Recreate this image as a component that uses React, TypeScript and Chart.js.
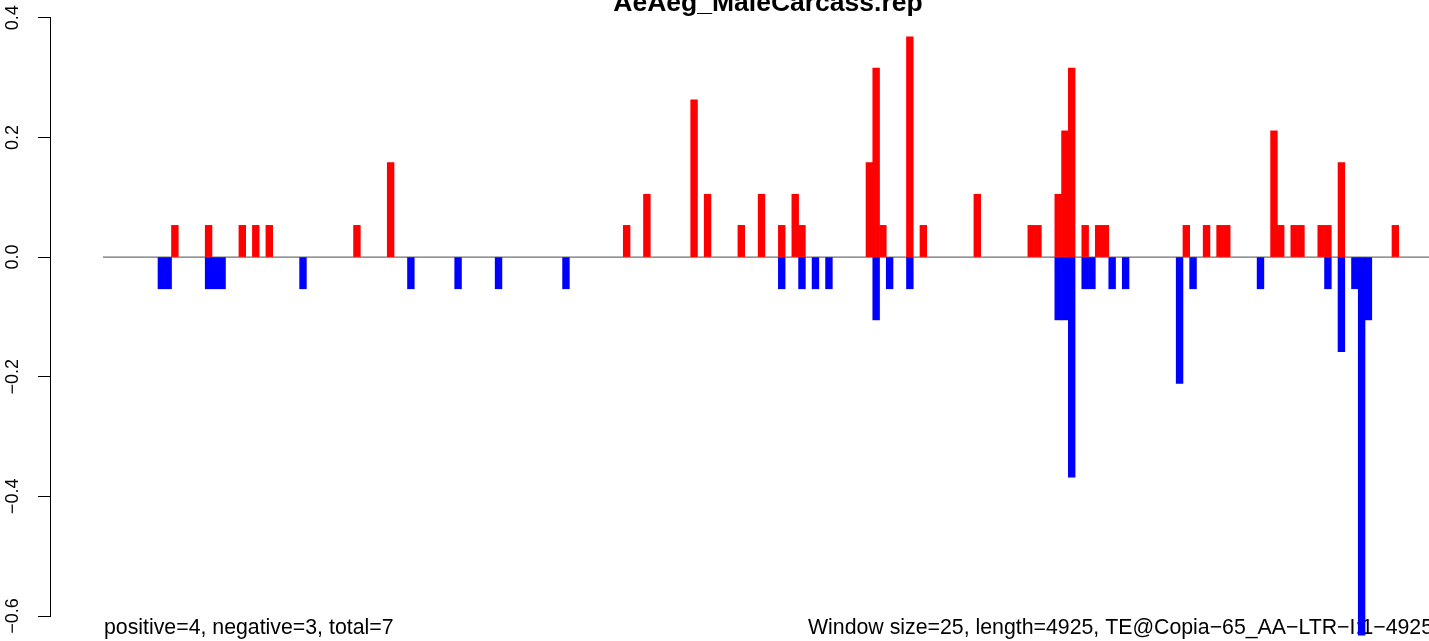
import React, { useEffect, useRef } from "react";
import { Chart, registerables } from "chart.js";

Chart.register(...registerables);

// ---- Text ----
const TITLE = "AeAeg_MaleCarcass.rep";
const LEFT_NOTE = "positive=4, negative=3, total=7";
const RIGHT_NOTE = "Window size=25, length=4925, TE@Copia\u221265_AA\u2212LTR\u2212I:1\u22124925";

// ---- Data: window index (0-based, 25 bp windows) and normalised value ----
const positiveWindows = [
  2, 7, 12, 14, 16, 29, 34, 69, 72, 79, 81, 86, 89, 92, 94, 95, 105, 106, 107,
  111, 113, 121, 129, 130, 133, 134, 135, 137, 139, 140, 152, 155, 157, 158,
  165, 166, 168, 169, 172, 173, 175, 183,
];
const positiveValues = [
  0.053, 0.053, 0.053, 0.053, 0.053, 0.053, 0.158, 0.053, 0.105, 0.263, 0.105,
  0.053, 0.105, 0.053, 0.105, 0.053, 0.158, 0.316, 0.053, 0.368, 0.053, 0.105,
  0.053, 0.053, 0.105, 0.211, 0.316, 0.053, 0.053, 0.053, 0.053, 0.053, 0.053,
  0.053, 0.211, 0.053, 0.053, 0.053, 0.053, 0.053, 0.158, 0.053,
];
const negativeWindows = [
  0, 1, 7, 8, 9, 21, 37, 44, 50, 60, 92, 95, 97, 99, 106, 108, 111, 133, 134,
  135, 137, 138, 141, 143, 151, 153, 163, 173, 175, 177, 178, 179,
];
const negativeValues = [
  -0.053, -0.053, -0.053, -0.053, -0.053, -0.053, -0.053, -0.053, -0.053,
  -0.053, -0.053, -0.053, -0.053, -0.053, -0.105, -0.053, -0.053, -0.105,
  -0.105, -0.368, -0.053, -0.053, -0.053, -0.053, -0.211, -0.053, -0.053,
  -0.053, -0.158, -0.053, -0.632, -0.105,
];
const yTickValues = [0.4, 0.2, 0.0, -0.2, -0.4, -0.6];
const zeroLineX = [-8.16, 200];

// ---- Scale range (window units) ----
const X_MIN = -16.02;
const X_MAX = 188.49;
const Y_MIN = -0.6;
const Y_MAX = 0.4;

const FONT = '"Liberation Sans", Arial, Helvetica, sans-serif';

const fmt = (v: number) =>
  v < 0 ? "\u2212" + Math.abs(v).toFixed(1) : Math.abs(v).toFixed(1);

const textPlugin = {
  id: "rTexts",
  beforeDatasetsDraw(chart: any) {
    const ctx = chart.ctx;
    ctx.save();
    ctx.fillStyle = "#000";
    ctx.textBaseline = "alphabetic";
    ctx.font = `bold 26.5px ${FONT}`;
    ctx.textAlign = "center";
    ctx.fillText(TITLE, 768, 11);
    ctx.font = `21.3px ${FONT}`;
    ctx.textAlign = "left";
    ctx.fillText(LEFT_NOTE, 104, 634);
    ctx.fillText(RIGHT_NOTE, 808, 634);
    ctx.restore();
  },
};

export default function App() {
  const ref = useRef<HTMLCanvasElement | null>(null);

  useEffect(() => {
    if (!ref.current) return;
    const chart = new Chart(ref.current, {
      type: "bar",
      data: {
        datasets: [
          {
            type: "line",
            label: "zero",
            data: zeroLineX.map((x) => ({ x, y: 0 })),
            borderColor: "#707070",
            borderWidth: 1.2,
            pointRadius: 0,
            order: 3,
          } as any,
          {
            type: "bar",
            label: "positive",
            data: positiveWindows.map((w, i) => ({ x: w + 0.5, y: positiveValues[i] })),
            backgroundColor: "#FF0000",
            borderWidth: 0,
            barPercentage: 1,
            categoryPercentage: 1,
            grouped: false,
            clip: false,
            order: 1,
          } as any,
          {
            type: "bar",
            label: "negative",
            data: negativeWindows.map((w, i) => ({ x: w + 0.5, y: negativeValues[i] })),
            backgroundColor: "#0000FF",
            borderWidth: 0,
            barPercentage: 1,
            categoryPercentage: 1,
            grouped: false,
            clip: false,
            order: 1,
          } as any,
        ],
      },
      options: {
        responsive: false,
        animation: false,
        layout: { padding: { left: 0, right: 0, top: 17, bottom: 25 } },
        plugins: {
          legend: { display: false },
          tooltip: { enabled: false },
          title: { display: false },
        },
        scales: {
          x: {
            type: "linear",
            min: X_MIN,
            max: X_MAX,
            offset: false,
            grid: { offset: false },
            display: false,
          },
          y: {
            type: "linear",
            min: Y_MIN,
            max: Y_MAX,
            afterFit: (s: any) => {
              s.width = 50;
            },
            afterBuildTicks: (s: any) => {
              s.ticks = yTickValues.map((v) => ({ value: v }));
            },
            border: { display: true, color: "#000", width: 1 },
            grid: {
              display: true,
              drawOnChartArea: false,
              drawTicks: true,
              tickLength: 12,
              tickColor: "#000",
              tickWidth: 1,
              color: "#000",
            },
            ticks: {
              minRotation: 90,
              maxRotation: 90,
              crossAlign: "center",
              padding: 7,
              color: "#000",
              font: { family: FONT, size: 18 },
              autoSkip: false,
              callback: (v: any) => fmt(Number(v)),
            },
          },
        },
      } as any,
      plugins: [textPlugin],
    });
    return () => chart.destroy();
  }, []);

  return (
    <div
      style={{
        position: "fixed",
        left: 0,
        top: 0,
        width: 1429,
        height: 641,
        background: "#fff",
      }}
    >
      <canvas ref={ref} width={1429} height={641} style={{ width: 1429, height: 641, display: "block" }} />
    </div>
  );
}
